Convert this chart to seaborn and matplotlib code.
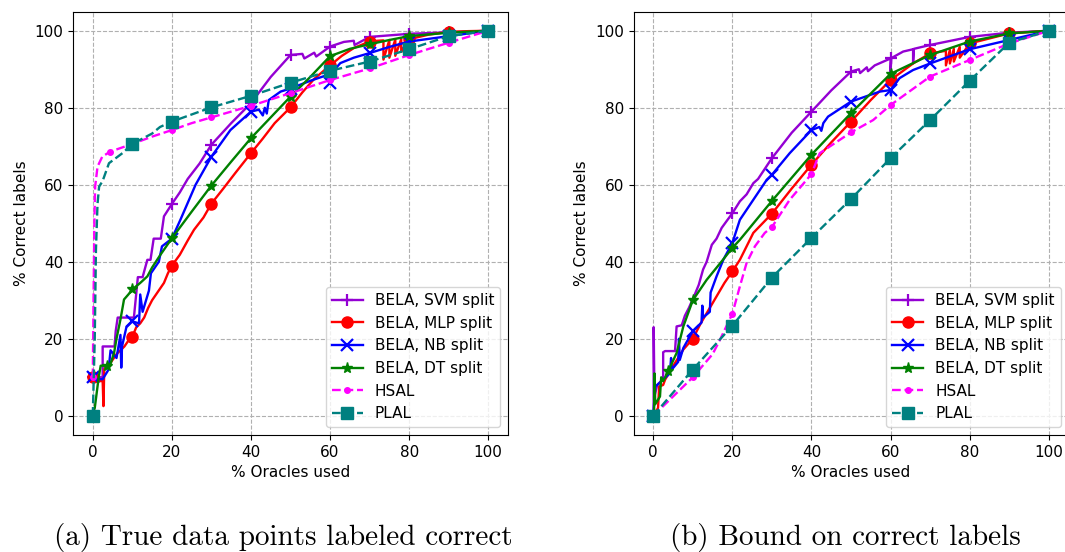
import numpy as np
import pandas as pd
import matplotlib
matplotlib.use("Agg")
import matplotlib.pyplot as plt
import seaborn as sns

# ---------------- panel (a): true data points labeled correct ----------------
a_svm_x = [0, 1.5, 2.5, 2.5, 5.5, 5.8, 6.3, 8.5, 10.4, 11.4, 12.6, 13.8, 14.6, 15.4, 17.2, 18, 20,
           22, 24, 27, 30, 35, 40, 45, 50, 53, 53.5, 56, 56.5, 60, 63.5, 66, 66.2, 70, 80, 90, 100]
a_svm_y = [10, 10, 10, 18, 18, 22, 25.5, 25.5, 25.5, 36, 36, 40.5, 40.5, 46, 46, 51.8, 55,
           58, 61.5, 65.5, 70.4, 76, 81.2, 88, 93.7, 94, 92.8, 94.3, 93.3, 95.9, 97.1, 97.4, 96.3, 98.4, 99.2, 99.6, 100]

a_mlp_x = [0, 1, 2.5, 2.7, 2.9, 3.2, 4, 5, 6, 7, 8, 9, 10, 11, 12, 13, 14, 15, 16, 17, 18, 19, 20,
           22, 24, 25.6, 28, 30, 33, 36, 40, 43, 46, 50, 53, 56, 60, 63, 66, 70, 72,
           73.5, 73.5, 75, 75, 76.5, 76.5, 78, 78, 80, 85, 90, 95, 100]
a_mlp_y = [10, 9, 9, 2.5, 12, 12.5, 13, 14.5, 16, 17, 18, 19.5, 20.5, 23, 24, 25.5, 28, 30, 31.5, 33, 34.5, 37, 39,
           41.8, 45.5, 48.3, 51.5, 55.1, 59, 63, 68.2, 72, 76, 80.1, 84, 87.5, 91, 93.5, 95.5, 97.2, 97.4,
           97.5, 92.5, 97.6, 93, 97.7, 93.5, 97.8, 94.5, 97.8, 99, 99.7, 99.9, 100]

a_nb_x = [0, 1, 2, 2.5, 4, 4.5, 6, 7, 7.2, 7.4, 8.5, 10, 11.7, 12, 12.6, 14.2, 14.7, 16.7, 17.5, 20,
          22.2, 26, 30, 34.8, 40, 42, 43, 43.5, 44, 44.5, 47.5, 50, 55, 59.3, 60, 60.2, 62.6, 66, 70,
          75, 80, 90, 100]
a_nb_y = [10, 9.5, 9.5, 9.5, 12, 17, 15, 21, 12.5, 18, 23, 24.5, 24, 31.5, 27, 32.5, 37, 40, 44, 46,
          51, 60, 67.3, 74.2, 79, 79.5, 78, 80, 78.5, 82, 84.2, 85, 87, 88.5, 86.4, 88.8, 91.6, 93, 94.2,
          95.8, 97.2, 98.6, 100]

a_dt_x = [0, 0.5, 1, 1.5, 2, 2.5, 3.5, 4.5, 5.4, 6, 7, 7.9, 9, 10, 12, 13.8, 15, 17.1, 20, 25, 30,
          35, 40, 45, 50, 55, 60, 65, 70, 75, 80, 90, 100]
a_dt_y = [0.5, 2, 6, 10, 13, 13, 13, 13.5, 16.4, 20, 25, 30.2, 31.5, 32.8, 34.5, 36.2, 38.5, 41.8, 46.1, 53, 59.8,
          66, 72.1, 77.5, 82.9, 88, 93.4, 95.3, 96.5, 97.6, 98.6, 99.5, 100]

a_hsal_x = [0, 0.2, 0.4, 0.6, 1.2, 2.4, 4.4, 10, 15, 20, 25, 30, 40, 50, 60, 70, 80, 90, 100]
a_hsal_y = [10, 30, 50, 59.5, 64.7, 67.3, 68.6, 70.6, 72.5, 74.2, 76, 77.5, 80.5, 83.8, 87.2, 90.2, 93.7, 96.9, 100]

a_plal_x = [0, 0.5, 0.8, 1.2, 1.6, 2.5, 4.1, 7.5, 10, 15, 17, 20, 30, 40, 50, 60, 70, 80, 90, 100]
a_plal_y = [0, 20, 43, 55, 59.5, 61, 65.6, 68.2, 70.6, 73.3, 75, 76.4, 80.1, 83.1, 86.5, 89.6, 92, 95.2, 98.6, 100]

# ---------------- panel (b): bound on correct labels ----------------
b_svm_x = [0, 0.1, 0.1, 0.3, 1, 2.5, 2.5, 3, 5.5, 5.9, 7.2, 8, 9, 10.5, 11.5, 12.6, 13.5, 14.8, 16, 17.3,
           18.5, 20, 21.9, 23.6, 25.3, 26.5, 30, 35, 40, 45, 50, 52, 52.3, 54, 54.3, 56, 60, 60, 60.2,
           63.2, 65.7, 65.7, 65.9, 70, 80, 90, 100]
b_svm_y = [0, 0, 23, 5, 8, 9.5, 16.5, 16.8, 16.8, 23.2, 23.5, 26, 28, 31.5, 34, 38, 40, 44.4, 46, 48.8,
           50.5, 52.6, 55.7, 57.5, 60.4, 61.5, 66.9, 73.5, 79, 84.5, 89.4, 90, 89, 90.5, 89.5, 91, 92.8, 89.4, 92.9,
           94.6, 95.2, 91.5, 95.3, 96.3, 98.4, 99.5, 100]

b_mlp_x = [0, 1.2, 1.5, 2.5, 3, 5, 7.6, 10, 12, 14, 16, 18, 20, 21.9, 25.3, 30, 35, 40, 45, 50, 55, 60,
           65.7, 70, 74, 74, 75, 75, 76, 76, 77.5, 77.5, 80, 85, 90, 100]
b_mlp_y = [0, 2, 7.6, 8, 9.4, 12.9, 17.2, 20, 24, 27.5, 31, 34.5, 37.5, 40.5, 47.5, 52.5, 59, 65.2, 71, 76.4, 82, 87.2,
           91.5, 94.1, 94.8, 91, 95, 91.5, 95.3, 92, 95.8, 93, 96.7, 98, 99.3, 100]

b_nb_x = [0, 0.5, 1, 2.5, 4.2, 4.5, 4.7, 6.3, 6.5, 6.7, 7.6, 10, 12.2, 12.4, 12.6, 14.3, 14.5, 16, 17.7, 20,
          21.9, 25.3, 28.7, 30, 34.5, 40, 42, 42.5, 43, 44.2, 50, 57.3, 60, 60.1, 60.3, 62.3, 65.7, 70, 80, 90, 100]
b_nb_y = [0, 7.7, 8, 9.4, 11, 15, 12, 14, 20, 14.5, 17.6, 22, 24.2, 28.6, 25.5, 27, 32, 36.2, 40.5, 44.9,
          50.9, 56.1, 61.3, 62.6, 68.2, 74.2, 75, 74, 76, 77.7, 81.6, 84.2, 84.6, 83.2, 85, 87.7, 89.8, 91.5, 95.2, 97.6, 100]

b_dt_x = [0, 0.2, 0.3, 0.5, 1.7, 2, 2.5, 3.8, 5.9, 7.6, 10, 13.5, 17.3, 20, 21.9, 30, 40, 50, 60, 70, 80, 90, 100]
b_dt_y = [0, 0, 11, 3, 5, 10, 9, 11.6, 16.3, 23.2, 30, 35.3, 40.1, 43.6, 45.7, 55.8, 67.8, 78.6, 88.8, 93.7, 97.2, 99.3, 100]

b_hsal_x = [0, 10, 15, 16.9, 20, 21.9, 23.6, 25.7, 28.2, 30, 34.5, 38.8, 40, 42.1, 50, 55.6, 60, 70, 80, 90, 100]
b_hsal_y = [0, 10, 16, 19.8, 26.5, 33.6, 39.7, 44, 47.5, 49, 56.1, 61.3, 62.8, 68.2, 73.6, 76.8, 80.7, 88.1, 92.4, 96.7, 100]

b_plal_x = [0, 10, 20, 30, 40, 50, 60, 70, 80, 90, 100]
b_plal_y = [0, 12, 23.4, 35.9, 46.2, 56.3, 66.9, 76.8, 87, 96.9, 100]

# marker positions along the oracle axis
decile_marks = [0, 10, 20, 30, 40, 50, 60, 70, 80, 90, 100]

labels = ["BELA, SVM split", "BELA, MLP split", "BELA, NB split", "BELA, DT split", "HSAL", "PLAL"]
colors = ["darkviolet", "red", "blue", "green", "magenta", "teal"]
markers = ["+", "o", "x", "*", ".", "s"]
linestyles = ["-", "-", "-", "-", "--", "--"]

panel_a = [(a_svm_x, a_svm_y, decile_marks), (a_mlp_x, a_mlp_y, decile_marks),
           (a_nb_x, a_nb_y, decile_marks), (a_dt_x, a_dt_y, [0, 3.5] + decile_marks[1:]),
           (a_hsal_x, a_hsal_y, [0, 4.4] + decile_marks[1:]), (a_plal_x, a_plal_y, decile_marks)]
panel_b = [(b_svm_x, b_svm_y, decile_marks), (b_mlp_x, b_mlp_y, decile_marks),
           (b_nb_x, b_nb_y, decile_marks), (b_dt_x, b_dt_y, [0, 3.8] + decile_marks[1:]),
           (b_hsal_x, b_hsal_y, decile_marks), (b_plal_x, b_plal_y, decile_marks)]


def mark_indices(xs, marks):
    idx = []
    for m in marks:
        for i, v in enumerate(xs):
            if abs(v - m) < 1e-9:
                idx.append(i)
                break
    return idx


def draw_panel(ax, series):
    for (xs, ys, marks), lab, col, mk, ls in zip(series, labels, colors, markers, linestyles):
        mew = 1.6 if mk in ("+", "x") else 1.0
        sns.lineplot(x=xs, y=ys, ax=ax, estimator=None, sort=False, color=col,
                     linestyle=ls, linewidth=1.7, marker=mk, markersize=8,
                     markevery=mark_indices(xs, marks), markeredgecolor=col,
                     markerfacecolor=col, markeredgewidth=mew, label=lab)
    ax.set_xlim(-5, 105)
    ax.set_ylim(-5, 105)
    ax.set_xticks([0, 20, 40, 60, 80, 100])
    ax.set_yticks([0, 20, 40, 60, 80, 100])
    ax.grid(True, linestyle="--", color="#b0b0b0", linewidth=0.8)
    ax.set_axisbelow(True)
    ax.set_xlabel("% Oracles used", fontsize=11)
    ax.set_ylabel("% Correct labels", fontsize=11)
    ax.tick_params(labelsize=11)
    ax.legend(loc="lower right", fontsize=11)


W, H = 1065, 552
fig = plt.figure(figsize=(W / 100, H / 100), dpi=100)
ax_a = fig.add_axes([73 / W, 1 - 435 / H, 435 / W, 423.5 / H])
ax_b = fig.add_axes([633.5 / W, 1 - 435 / H, 435 / W, 423.5 / H])

draw_panel(ax_a, panel_a)
draw_panel(ax_b, panel_b)

fig.text(283 / W, 1 - 538 / H, "(a) True data points labeled correct",
         family="cmr10", fontsize=21, ha="center", va="center")
fig.text(845 / W, 1 - 538 / H, "(b) Bound on correct labels",
         family="cmr10", fontsize=21, ha="center", va="center")

fig.savefig("out.png", dpi=100)
